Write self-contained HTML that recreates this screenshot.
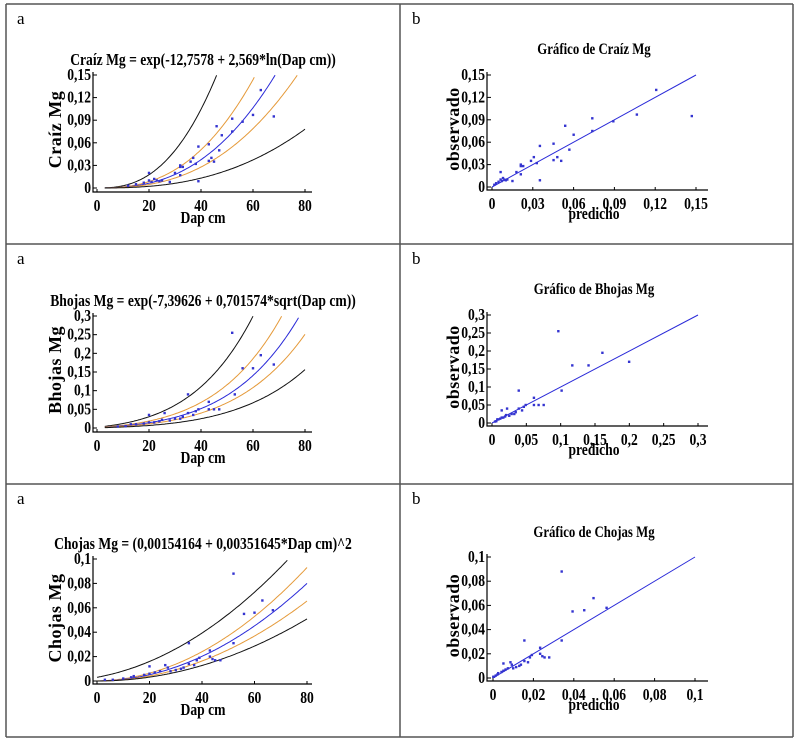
<!DOCTYPE html>
<html><head><meta charset="utf-8">
<style>
html,body{margin:0;padding:0;background:#fff;}
svg{display:block;font-family:"Liberation Serif",serif;}
</style></head>
<body>
<svg id="fig" width="799" height="740" viewBox="0 0 799 740" xmlns="http://www.w3.org/2000/svg">
<g stroke="#555" stroke-width="1.5" fill="none">
<line x1="6" y1="4" x2="793" y2="4"/><line x1="6" y1="244" x2="793" y2="244"/>
<line x1="6" y1="484" x2="793" y2="484"/><line x1="6" y1="737" x2="793" y2="737"/>
<line x1="6" y1="4" x2="6" y2="737"/><line x1="400" y1="4" x2="400" y2="737"/><line x1="793" y1="4" x2="793" y2="737"/>
</g>
</svg>
<script>
// ---- data ----
const dap1=[20,20,21,22,23,24,25,28,30,32,32,32,33,36,37,38,39,39,43,43,44,45,46,47,48,52,52,56,60,63,68,15,12,18];
const obs1=[0.02,0.01,0.008,0.012,0.01,0.009,0.01,0.008,0.02,0.03,0.028,0.017,0.028,0.035,0.04,0.032,0.055,0.009,0.036,0.058,0.04,0.035,0.082,0.05,0.07,0.092,0.075,0.088,0.097,0.13,0.095,0.005,0.003,0.007];
const dap2=[52,56,60,63,68,53,35,43,43,45,47,39,38,37,33,32,30,28,26,25,20,20,22,18,15,13,11,8,35,24];
const obs2=[0.255,0.16,0.16,0.195,0.17,0.09,0.09,0.07,0.05,0.05,0.05,0.05,0.045,0.035,0.03,0.025,0.025,0.02,0.04,0.022,0.035,0.015,0.015,0.012,0.01,0.01,0.005,0.004,0.04,0.018];
const dap3=[52,56,60,63,67,52,35,43,43,44,45,47,39,38,37,35,33,32,30,28,26,24,22,20,20,18,14,13,10,6,3,27];
const obs3=[0.088,0.055,0.056,0.066,0.058,0.031,0.031,0.025,0.02,0.018,0.017,0.017,0.019,0.017,0.013,0.014,0.011,0.01,0.009,0.008,0.013,0.008,0.007,0.012,0.006,0.005,0.004,0.003,0.002,0.001,0.001,0.011];
const yTicks1=[0,0.03,0.06,0.09,0.12,0.15];
const yTickLabels1=["0","0,03","0,06","0,09","0,12","0,15"];
const yTicks2=[0,0.05,0.1,0.15,0.2,0.25,0.3];
const yTickLabels2=["0","0,05","0,1","0,15","0,2","0,25","0,3"];
const yTicks3=[0,0.02,0.04,0.06,0.08,0.1];
const yTickLabels3=["0","0,02","0,04","0,06","0,08","0,1"];
const dapTicks=[0,20,40,60,80];
const dapTickLabels=["0","20","40","60","80"];
// model coefficients
const coef1=[-12.7578,2.569];
const coef2=[-7.39626,0.701574];
const coef3=[0.00154164,0.00351645];
const band1=[2.78,1.35,0.74,0.35];  // multipliers: upper pred, upper conf, lower conf, lower pred
const band2=[2.13,1.32,0.77,0.48];
const band3a=[0.055,0.005,0,0];      // intercepts of sqrt-bands
const band3b=[0.00358,0.00375,0.0032,0.00282];

const f1=x=>Math.exp(coef1[0]+coef1[1]*Math.log(x));
const f2=x=>Math.exp(coef2[0]+coef2[1]*Math.sqrt(x));
const f3=x=>Math.pow(coef3[0]+coef3[1]*x,2);

const NS="http://www.w3.org/2000/svg";
const svg=document.getElementById('fig');
function mk(tag,attrs,parent){const e=document.createElementNS(NS,tag);for(const k in attrs)e.setAttribute(k,attrs[k]);(parent||svg).appendChild(e);return e;}
function txt(s,attrs,parent,squeeze){const t=mk('text',attrs,parent);t.textContent=s;if(squeeze){const w=t.getComputedTextLength();t.setAttribute('textLength',(w*squeeze).toFixed(1));t.setAttribute('lengthAdjust','spacingAndGlyphs');}return t;}

function panel(o){
  const g=mk('g',{});
  
  
  const sx=v=>o.x0+(v-o.xmin)/(o.xmax-o.xmin)*(o.x1-o.x0);
  const sy=v=>o.y0-(v)/(o.ymax)*(o.y0-o.y1);
  const lt=txt(o.letter,{x:o.lx,y:o.ly,'font-size':17},g);
  
  
  const ti=txt(o.title,{x:o.tx,y:o.ty,'font-size':o.tfs||16,'font-weight':'bold','text-anchor':'middle'},g,0.8);
  
  
  const ax=mk('path',{d:`M${o.ax},${o.y1-3} L${o.ax},${o.ay} L${o.axEnd},${o.ay}`,stroke:'#000','stroke-width':1.2,fill:'none'},g);
  
  
  o.yt.forEach((v,i)=>{
    const y=sy(v);
    mk('line',{x1:o.ax,x2:o.ax+4,y1:y,y2:y,stroke:'#000','stroke-width':1},g);
    const t=txt(o.ytl[i],{x:o.ax-2,y:y+5,'font-size':17,'font-weight':'bold','text-anchor':'end'},g,0.8);
    
    
  });
  o.xt.forEach((v,i)=>{
    const x=sx(v);
    mk('line',{x1:x,x2:x,y1:o.ay,y2:o.ay-3,stroke:'#000','stroke-width':1},g);
    const t=txt(o.xtl[i],{x:x,y:o.xly,'font-size':17,'font-weight':'bold','text-anchor':'middle'},g,0.8);
    
    
  });
  const xl=txt(o.xlab,{x:o.xlx,y:o.xlabY,'font-size':17,'font-weight':'bold','text-anchor':'middle'},g,0.8);
  
  
  const yl=txt(o.ylab,{x:0,y:0,'font-size':18,'font-weight':'bold','text-anchor':'middle','letter-spacing':o.ls||0,transform:`translate(${o.ylx},${o.yly}) rotate(-90)`},g);
  
  
  (o.curves||[]).forEach(c=>{
    let d='';let started=false;
    for(let x=o.cstart;x<=80;x+=0.5){const v=c.f(x);if(v>o.ymax)break;d+=(started?'L':'M')+sx(x).toFixed(1)+','+sy(v).toFixed(1);started=true;}
    const p=mk('path',{d:d,stroke:c.col,'stroke-width':1,fill:'none'},g);
    
    
  });
  if(o.diag){
    const p=mk('line',{x1:sx(0),y1:sy(0),x2:sx(o.xmax),y2:sy(o.ymax),stroke:'#2a2ad8','stroke-width':1},g);
    
    
  }
  o.px.forEach((xv,i)=>{
    const r=mk('rect',{x:sx(xv)-1.2,y:sy(o.py[i])-1.2,width:2.4,height:2.4,fill:'#3434d0'},g);
    
    
  });
}

const rows=[
 {off:0,dap:dap1,obs:obs1,f:f1,ymax:0.15,yt:yTicks1,ytl:yTickLabels1,eq:"Craíz Mg = exp(-12,7578 + 2,569*ln(Dap cm))",yl:"Craíz Mg",gt:"Gráfico de Craíz Mg",
  bands:[x=>f1(x)*band1[0],x=>f1(x)*band1[1],x=>f1(x)*band1[2],x=>f1(x)*band1[3]],
  a:{y1:75,y0:188,x0:97,x1:305,ay:192},b:{y1:75,y0:187,x0:492,x1:696,ay:190}},
 {off:240,dap:dap2,obs:obs2,f:f2,ymax:0.3,yt:yTicks2,ytl:yTickLabels2,eq:"Bhojas Mg = exp(-7,39626 + 0,701574*sqrt(Dap cm))",yl:"Bhojas Mg",gt:"Gráfico de Bhojas Mg",
  bands:[x=>f2(x)*band2[0],x=>f2(x)*band2[1],x=>f2(x)*band2[2],x=>f2(x)*band2[3]],
  a:{y1:316,y0:428,x0:97,x1:305,ay:432},b:{y1:315,y0:423,x0:492,x1:698,ay:426}},
 {off:480,dap:dap3,obs:obs3,f:f3,ymax:0.1,yt:yTicks3,ytl:yTickLabels3,eq:"Chojas Mg = (0,00154164 + 0,00351645*Dap cm)^2",yl:"Chojas Mg",gt:"Gráfico de Chojas Mg",
  bands:[0,1,2,3].map(k=>x=>Math.pow(band3a[k]+band3b[k]*x,2)),
  a:{y1:559,y0:681,x0:97,x1:307,ay:684},b:{y1:557,y0:678,x0:493,x1:695,ay:681}}
];
const predTicks=[[0,0.03,0.06,0.09,0.12,0.15],[0,0.05,0.1,0.15,0.2,0.25,0.3],[0,0.02,0.04,0.06,0.08,0.1]];
const predTickLabels=[["0","0,03","0,06","0,09","0,12","0,15"],["0","0,05","0,1","0,15","0,2","0,25","0,3"],["0","0,02","0,04","0,06","0,08","0,1"]];

rows.forEach((r,i)=>{
  const A=r.a,B=r.b,o=r.off;
  panel({name:'fit-chart-'+(i+1),letter:'a',lx:17,ly:o+24,title:r.eq,tx:203,ty:A.y1-10,tfs:17,
    x0:A.x0,x1:A.x1,y0:A.y0,y1:A.y1,xmin:0,xmax:80,ymax:r.ymax,ax:93,ay:A.ay,axEnd:312,
    yt:r.yt,ytl:r.ytl,xt:dapTicks,xtl:dapTickLabels,xly:A.ay+19,xlab:'Dap cm',xlx:203,xlabY:A.ay+31,
    ylab:r.yl,ylx:61,yly:(A.y0+A.y1)/2-2,ls:0.5,cstart:i==2?0:3,
    curves:[{f:r.bands[0],col:'#111',name:'upper-prediction-band'},{f:r.bands[1],col:'#e59a3a',name:'upper-confidence-band'},
            {f:r.f,col:'#2a2ad8',name:'fitted-curve'},{f:r.bands[2],col:'#e59a3a',name:'lower-confidence-band'},
            {f:r.bands[3],col:'#111',name:'lower-prediction-band'}],
    px:r.dap,py:r.obs});
  panel({name:'observed-vs-predicted-'+(i+1),letter:'b',lx:412,ly:o+24,title:r.gt,tx:594,ty:o+(i==2?57:54),tfs:16,
    x0:B.x0,x1:B.x1,y0:B.y0,y1:B.y1,xmin:0,xmax:r.ymax,ymax:r.ymax,ax:487,ay:B.ay,axEnd:708,
    yt:r.yt,ytl:r.ytl,xt:predTicks[i],xtl:predTickLabels[i],xly:B.ay+19,xlab:'predicho',xlx:594,xlabY:B.ay+29,
    ylab:'observado',ylx:459,yly:(B.y0+B.y1)/2-2,ls:0.5,diag:true,
    px:r.dap.map(r.f),py:r.obs});
});
</script>
</body></html>
